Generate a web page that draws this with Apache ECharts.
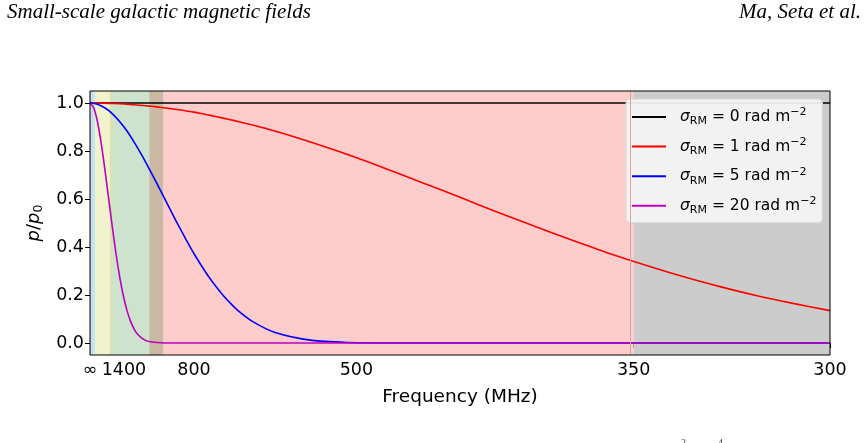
<!DOCTYPE html>
<html>
<head>
<meta charset="utf-8">
<script src="https://cdn.jsdelivr.net/npm/echarts@6/dist/echarts.min.js"></script>
<style>
  html, body { margin: 0; padding: 0; background: #fff; }
  #chart { width: 868px; height: 443px; }
</style>
</head>
<body>
<div id="chart"></div>
<script>
// x axis is lambda^2 (m^2); labels show the matching frequency in MHz
const tickPositions = [0, 0.0459, 0.1406, 0.36, 0.7347, 1.0];
const tickLabels = ["∞", "1400", "800", "500", "350", "300"];
const yTicks = [0, 0.2, 0.4, 0.6, 0.8, 1.0];

const sigmaNames = ["0", "1", "5", "20"];

const xZero = [0, 1];
const yRm0 = [1, 1];

const xCoarse = [0, 0.01, 0.02, 0.03, 0.04, 0.05, 0.06, 0.07, 0.08, 0.09, 0.10, 0.11, 0.12, 0.13,
  0.14, 0.15, 0.16, 0.17, 0.18, 0.19, 0.20, 0.22, 0.25, 0.30, 0.35, 0.40, 0.45, 0.50, 0.55,
  0.60, 0.65, 0.70, 0.75, 0.80, 0.85, 0.90, 0.95, 1.00];
const yRm1 = [1, 1.0, 0.999, 0.998, 0.997, 0.995, 0.993, 0.990, 0.987, 0.984, 0.980, 0.976,
  0.972, 0.967, 0.962, 0.956, 0.950, 0.944, 0.937, 0.930, 0.923, 0.908, 0.883, 0.835, 0.783,
  0.726, 0.667, 0.607, 0.546, 0.487, 0.430, 0.375, 0.325, 0.278, 0.236, 0.198, 0.165, 0.135];
const yRm5 = [1, 0.995, 0.980, 0.956, 0.923, 0.883, 0.835, 0.783, 0.726, 0.667, 0.607, 0.546,
  0.487, 0.430, 0.375, 0.325, 0.278, 0.236, 0.198, 0.165, 0.135, 0.089, 0.044, 0.011, 0.002,
  0.0, 0, 0, 0, 0, 0, 0, 0, 0, 0, 0, 0, 0];

const xFine = [0, 0.005, 0.01, 0.015, 0.02, 0.025, 0.03, 0.035, 0.04, 0.045, 0.05, 0.055,
  0.06, 0.065, 0.07, 0.075, 0.08, 0.09, 0.10, 0.12, 0.5, 1.0];
const yRm20 = [1, 0.980, 0.923, 0.835, 0.726, 0.607, 0.487, 0.375, 0.278, 0.198, 0.135, 0.089,
  0.056, 0.034, 0.020, 0.011, 0.006, 0.002, 0.0, 0, 0, 0];

// shaded observing bands, in lambda^2
const bandRanges = [[0, 0.002], [0.002, 0.0045], [0.0045, 0.0074], [0.0074, 0.027],
  [0.027, 0.031], [0.031, 0.080], [0.080, 0.0995], [0.0995, 0.7347], [0.7347, 1.0]];
const bandColors = ["#c9c7ef", "#bfd8f2", "#c6e6d6", "#f2f2cc", "#d9e2b1", "#cde3cd",
  "#cbb9a3", "#ffcccc", "#cccccc"];

const lineColors = ["#000000", "#ff0000", "#0000ff", "#bf00bf"];

function pairs(xs, ys) {
  return xs.map((x, i) => [x, ys[i]]);
}

const chart = echarts.init(document.getElementById("chart"), null, { renderer: "canvas" });

const fontMain = "DejaVu Sans";

const curveData = [pairs(xZero, yRm0), pairs(xCoarse, yRm1), pairs(xCoarse, yRm5), pairs(xFine, yRm20)];

const option = {
  animation: false,
  grid: { left: 90, right: 38, top: 91, bottom: 88 },
  xAxis: {
    type: "value",
    min: 0,
    max: 1,
    name: "Frequency (MHz)",
    nameLocation: "middle",
    nameGap: 33,
    nameTextStyle: { fontFamily: fontMain, fontSize: 18.5, color: "#000" },
    axisLine: { show: false },
    splitLine: { show: false },
    axisTick: { show: true, customValues: tickPositions, length: 5, lineStyle: { color: "#000" } },
    axisLabel: {
      customValues: tickPositions,
      formatter: (v) => {
        const i = tickPositions.findIndex((t) => Math.abs(t - v) < 1e-6);
        return i >= 0 ? tickLabels[i] : "";
      },
      fontFamily: fontMain,
      fontSize: 17.5,
      color: "#000",
      margin: 6,
    },
  },
  yAxis: {
    type: "value",
    min: -0.05,
    max: 1.05,
    name: "{i|p}{n|/}{i|p}{sub|0}",
    nameLocation: "middle",
    nameGap: 45,
    nameRotate: 90,
    nameTextStyle: {
      color: "#000",
      rich: {
        i: { fontFamily: fontMain, fontStyle: "italic", fontSize: 18, lineHeight: 22 },
        n: { fontFamily: fontMain, fontSize: 18, lineHeight: 22 },
        sub: { fontFamily: fontMain, fontSize: 12.5, verticalAlign: "bottom", lineHeight: 15 },
      },
    },
    axisLine: { show: false },
    splitLine: { show: false },
    axisTick: { show: true, customValues: yTicks, length: 5, lineStyle: { color: "#000" } },
    axisLabel: {
      customValues: yTicks,
      formatter: (v) => v.toFixed(1),
      fontFamily: fontMain,
      fontSize: 17.5,
      color: "#000",
      margin: 6,
    },
  },
  legend: {
    orient: "vertical",
    left: 626,
    top: 99,
    width: 196,
    icon: "rect",
    itemWidth: 34,
    itemHeight: 2,
    itemGap: 9.6,
    padding: [8, 6, 7, 6],
    backgroundColor: "rgba(245,245,245,0.92)",
    borderColor: "#d6d6d6",
    borderWidth: 1,
    borderRadius: 4,
    data: sigmaNames,
    formatter: (n) => `{s|σ}{sub|RM}{t| = ${n} rad m}{sup|−2}`,
    textStyle: {
      color: "#000",
      rich: {
        s: { fontFamily: fontMain, fontStyle: "italic", fontSize: 15.5, lineHeight: 20, padding: [0, 0, 0, 9] },
        sub: { fontFamily: fontMain, fontSize: 11, verticalAlign: "bottom", lineHeight: 14 },
        t: { fontFamily: fontMain, fontSize: 15.5, lineHeight: 20 },
        sup: { fontFamily: fontMain, fontSize: 11, verticalAlign: "top", lineHeight: 14 },
      },
    },
  },
  series: [
    {
      name: "bands",
      type: "line",
      data: [],
      silent: true,
      z: 1,
      markArea: {
        silent: true,
        data: bandRanges.map((r, i) => [
          { xAxis: r[0], itemStyle: { color: bandColors[i], opacity: 1 } },
          { xAxis: r[1] },
        ]),
      },
      markLine: {
        silent: true,
        symbol: "none",
        label: { show: false },
        lineStyle: { color: "#d4a7a7", width: 1, type: "solid" },
        data: [{ xAxis: bandRanges[7][1] }],
      },
    },
    ...sigmaNames.map((n, i) => ({
      name: n,
      type: "line",
      z: 3,
      data: curveData[i],
      showSymbol: false,
      symbol: "none",
      smooth: 0.25,
      lineStyle: { color: lineColors[i], width: 1.6 },
      itemStyle: { color: lineColors[i] },
    })),
  ],
  graphic: [
    {
      type: "rect",
      z: 50,
      silent: true,
      shape: { x: 90, y: 91, width: 740, height: 264 },
      style: { fill: "none", stroke: "#000", lineWidth: 1 },
    },
    {
      type: "text",
      left: 7,
      top: 2,
      style: {
        text: "Small-scale galactic magnetic fields",
        font: "italic 21px 'Liberation Serif'",
        fill: "#000",
      },
    },
    {
      type: "text",
      right: 7,
      top: 2,
      style: {
        text: "Ma, Seta et al.",
        font: "italic 21px 'Liberation Serif'",
        fill: "#000",
      },
    },
    {
      type: "text",
      left: 681,
      top: 438,
      style: { text: "2", font: "10px 'Liberation Serif'", fill: "#444" },
    },
    {
      type: "text",
      left: 718,
      top: 438,
      style: { text: "4", font: "10px 'Liberation Serif'", fill: "#444" },
    },
  ],
};

chart.setOption(option);
</script>
</body>
</html>
